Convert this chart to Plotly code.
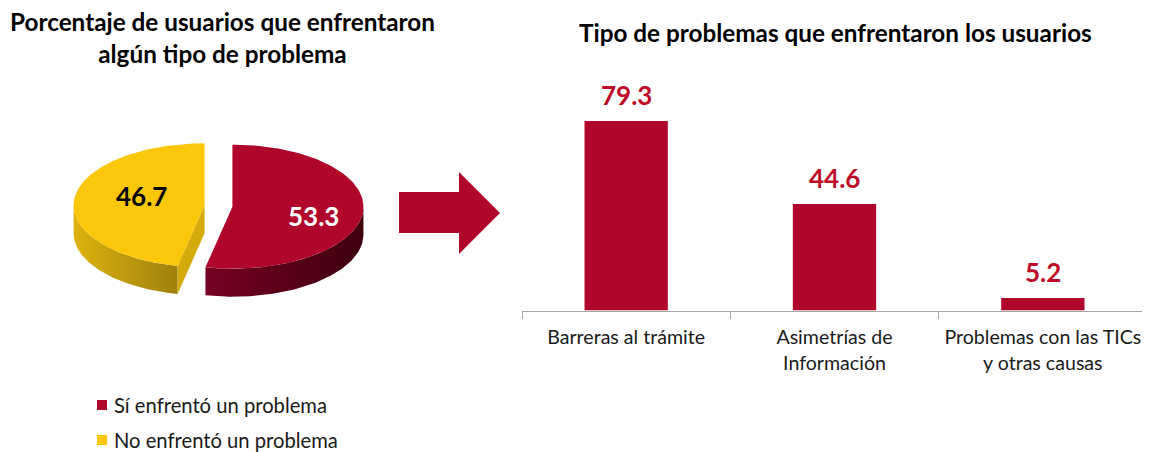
import numpy as np
import plotly.graph_objects as go

# ---------------- data ----------------
pie_labels = ["Sí enfrentó un problema", "No enfrentó un problema"]
pie_values = [53.3, 46.7]

bar_categories = ["Barreras al trámite",
                  "Asimetrías de<br>Información",
                  "Problemas con las TICs<br>y otras causas"]
bar_values = [79.3, 44.6, 5.2]

left_title = "Porcentaje de usuarios que enfrentaron<br>algún tipo de problema"
right_title = "Tipo de problemas que enfrentaron los usuarios"

# ---------------- styles ----------------
FONT = "Lato"
OFF = 8                      # page body margin
W, H = 1150 - OFF, 452 - OFF
RED = "#B0062C"
YELLOW = "#FAC70B"
LABEL_RED = "#BE0A27"
top_colors = [RED, YELLOW]
side_scales = [[[0, "#760022"], [1, "#3E000E"]],
               [[0, "#DDB20E"], [1, "#9E810C"]]]
cut_colors = ["#5A0018", "#D4AB0A"]
pie_text_colors = ["white", "black"]
pie_label_dy = [6, -6]

# pseudo-3D pie geometry (reference pixel units)
CX, CY = 218.5, 206.0
A, B = 131.0, 62.0
DEPTH = 28.0
EXPLODE = 14.0
LABEL_R = 0.55

fig = go.Figure()


def rim(cx, cy, th):
    t = np.radians(th)
    return cx + A * np.sin(t), cy - B * np.cos(t)


total = sum(pie_values)
angles = np.concatenate([[0], np.cumsum(pie_values) / total * 360.0])

back_traces, top_traces, label_pos = [], [], []
for i, v in enumerate(pie_values):
    t1, t2 = angles[i], angles[i + 1]
    mid = (t1 + t2) / 2
    cx = CX + EXPLODE * np.sin(np.radians(mid))
    cy = CY - EXPLODE * np.cos(np.radians(mid)) * B / A
    # outer side (front half only)
    lo, hi = max(t1, 90), min(t2, 270)
    if lo < hi:
        th = np.linspace(lo, hi, 80)
        xs, ys = rim(cx, cy, th)
        px = np.concatenate([xs, xs[::-1]])
        py = np.concatenate([ys, ys[::-1] + DEPTH])
        back_traces.append(go.Scatter(
            x=px, y=py, mode="lines", fill="toself", line=dict(width=0),
            fillgradient=dict(type="horizontal", colorscale=side_scales[i]),
            hoverinfo="skip", showlegend=False, xaxis="x", yaxis="y"))
    # radial cut faces facing the viewer
    for t, vis in ((t1, np.sin(np.radians(t1)) < -1e-6), (t2, np.sin(np.radians(t2)) > 1e-6)):
        if vis:
            rx, ry = rim(cx, cy, t)
            back_traces.append(go.Scatter(
                x=[cx, rx, rx, cx, cx], y=[cy, ry, ry + DEPTH, cy + DEPTH, cy],
                mode="lines", fill="toself", line=dict(width=0),
                fillcolor=cut_colors[i], hoverinfo="skip", showlegend=False,
                xaxis="x", yaxis="y"))
    # top face
    th = np.linspace(t1, t2, 160)
    xs, ys = rim(cx, cy, th)
    top_traces.append(go.Scatter(
        x=np.concatenate([[cx], xs, [cx]]), y=np.concatenate([[cy], ys, [cy]]),
        mode="lines", fill="toself", line=dict(width=0), fillcolor=top_colors[i],
        name=pie_labels[i], text=[f"{pie_labels[i]}: {v}"] * (len(xs) + 2),
        hoverinfo="text", showlegend=False, xaxis="x", yaxis="y"))
    lx, ly = rim(cx, cy, mid)
    label_pos.append((cx + LABEL_R * (lx - cx), cy + LABEL_R * (ly - cy)))

for t in back_traces + top_traces:
    fig.add_trace(t)

# ---------------- bars ----------------
fig.add_trace(go.Bar(
    x=bar_categories, y=bar_values, width=0.4, marker=dict(color=RED, line=dict(width=0)),
    xaxis="x2", yaxis="y2", showlegend=False, hovertemplate="%{x}: %{y}<extra></extra>"))

annotations = []
for c, v in zip(bar_categories, bar_values):
    annotations.append(dict(
        x=c, y=v, xref="x2", yref="y2", text=f"{v:.1f}", showarrow=False,
        yanchor="middle", yshift=26,
        font=dict(family=FONT, size=26, color=LABEL_RED, weight="bold")))

for (px_, py_), v, col, dy in zip(label_pos, pie_values, pie_text_colors, pie_label_dy):
    annotations.append(dict(
        x=px_ + 9, y=py_ + dy, xref="x", yref="y", text=f"{v:.1f}", showarrow=False,
        font=dict(family=FONT, size=26, color=col, weight="bold")))

# titles
annotations.append(dict(x=222, y=37, xref="x", yref="y", text=left_title, showarrow=False,
                        font=dict(family=FONT, size=24.3, color="black", weight="bold")))
annotations.append(dict(x=835, y=32, xref="x", yref="y", text=right_title, showarrow=False,
                        font=dict(family=FONT, size=24.3, color="black", weight="bold")))

# legend (squares + text)
shapes = []
legend_y = [405, 440]
for i, lab in enumerate(pie_labels):
    yc = legend_y[i]
    shapes.append(dict(type="rect", xref="x", yref="y", x0=97, x1=107, y0=yc - 5, y1=yc + 5,
                       fillcolor=top_colors[i], line=dict(width=0)))
    annotations.append(dict(x=113, y=yc, xref="x", yref="y", text=lab, showarrow=False,
                            xanchor="left", yanchor="middle", borderpad=0,
                            font=dict(family=FONT, size=20.2, color="#1A1A1A")))

# arrow
shapes.append(dict(type="path", xref="x", yref="y",
                   path="M399,192 L459,192 L459,172 L500,213 L459,254 L459,233 L399,233 Z",
                   fillcolor=RED, line=dict(width=0)))

base_px = 310.5 - OFF
px_per_unit = 2.39
ymax = 90
y2_dom = [(H - base_px) / H, (H - base_px + ymax * px_per_unit) / H]

fig.update_layout(
    width=W, height=H, margin=dict(l=0, r=0, t=0, b=0),
    paper_bgcolor="white", plot_bgcolor="rgba(0,0,0,0)",
    xaxis=dict(domain=[0, 1], range=[OFF, OFF + W], visible=False, fixedrange=True),
    yaxis=dict(domain=[0, 1], range=[OFF + H, OFF], visible=False, fixedrange=True),
    xaxis2=dict(domain=[(522 - OFF) / W, (1147 - OFF) / W], range=[-0.5, 2.5], anchor="y2",
                showline=True, linecolor="#A6A6A6", linewidth=1,
                ticks="outside", tickson="boundaries", ticklen=7, tickcolor="#A6A6A6",
                showgrid=False, ticklabelstandoff=9, tickangle=0, automargin=False,
                tickfont=dict(family=FONT, size=19.6, color="#1A1A1A")),
    yaxis2=dict(domain=y2_dom, range=[0, ymax], anchor="x2", visible=False),
    annotations=annotations, shapes=shapes, bargap=0.6,
)

fig.write_html("out.html")
